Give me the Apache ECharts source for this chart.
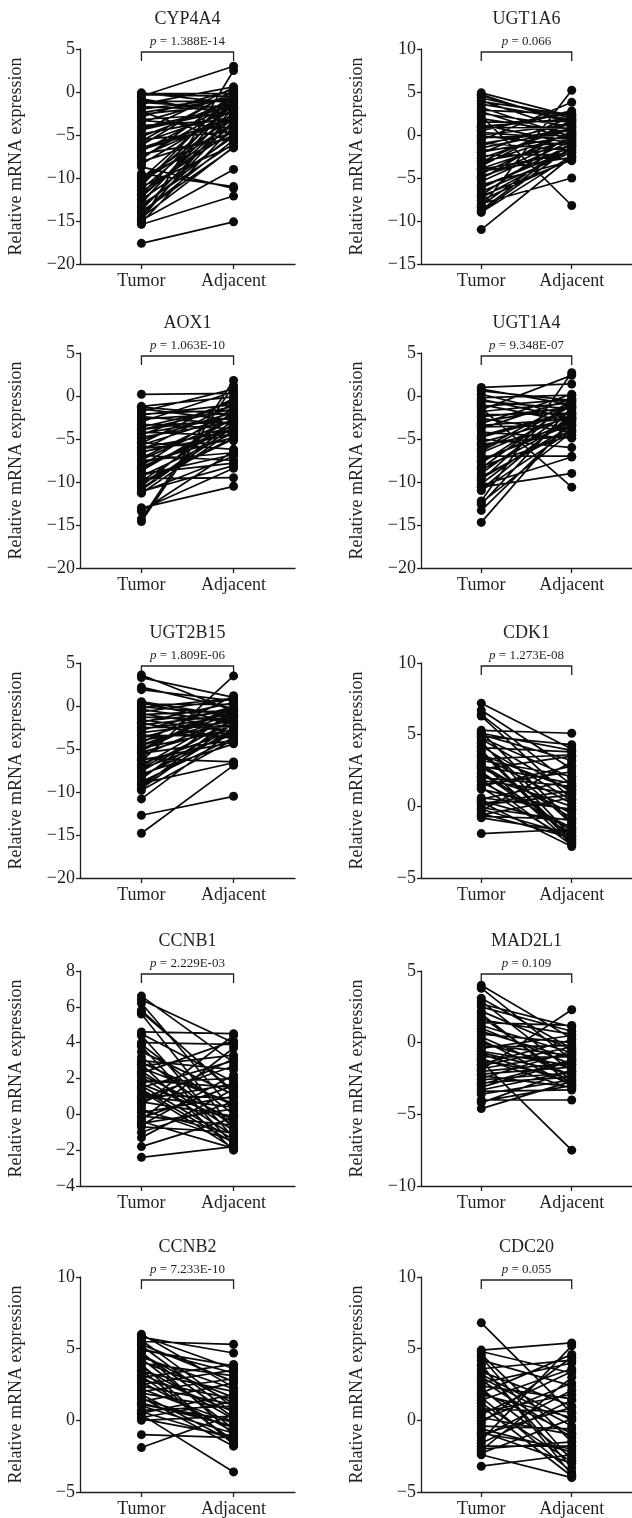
<!DOCTYPE html>
<html><head><meta charset="utf-8">
<script src="https://cdn.jsdelivr.net/npm/echarts@6/dist/echarts.min.js"></script>
<style>html,body{margin:0;padding:0;background:#fff}#c{width:632px;height:1518px}</style>
</head><body><div id="c"></div>
<script>
// ---------- data ----------
const genes = ['CYP4A4','UGT1A6','AOX1','UGT1A4','UGT2B15','CDK1','CCNB1','MAD2L1','CCNB2','CDC20'];
const pValues = ['1.388E-14','0.066','1.063E-10','9.348E-07','1.809E-06','1.273E-08','2.229E-03','0.109','7.233E-10','0.055'];
const groups = ['Tumor','Adjacent'];
const yMin = [-20,-15,-20,-20,-20,-5,-4,-10,-5,-5];
const yMax = [5,10,5,5,5,10,8,5,10,10];
const yStep = [5,5,5,5,5,5,2,5,5,5];
const yTitle = 'Relative mRNA expression';

const tumorCYP4A4 = [-17.6,-15.4,-15.1,-14.9,-14.6,-14.3,-14.0,-13.7,-13.4,-13.1,-12.8,-12.5,-12.2,-11.9,-11.6,-11.3,-11.0,-10.7,-10.4,-10.1,-9.8,-9.5,-8.7,-8.4,-8.1,-7.8,-7.5,-7.2,-6.9,-6.5,-6.2,-5.9,-5.5,-5.2,-4.9,-4.5,-4.2,-3.9,-3.5,-3.2,-2.9,-2.6,-2.3,-2.0,-1.7,-1.4,-1.1,-0.8,-0.5,-0.2,-0.1,
  -15.2,-14.7,-13.9,-13.0,-12.0,-10.9,-10.2,-7.6,-6.7,-5.7,-4.4,-3.3,-2.4,-1.2,-0.3];
const adjCYP4A4   = [-15.1,-12.1,2.5,-9.0,-6.4,-3.3,-5.6,-2.8,-4.9,-6.0,-1.9,-5.2,-3.0,-0.9,-4.5,-2.4,-6.2,-1.5,-3.6,-0.6,-5.0,-11.0,-11.2,-2.0,-4.7,-0.3,-2.7,-5.4,-1.2,-3.1,0.2,-2.2,-4.6,-1.0,-2.9,0.5,-1.7,-3.2,-0.4,-2.5,0.3,-1.4,-5.8,-0.7,-2.1,0.6,-1.1,-2.6,3.0,-0.2,-1.3,
  -4.0,-2.3,-6.5,-1.0,-3.8,-0.1,-2.9,-1.6,-3.4,0.1,-2.0,-4.2,-0.8,-1.9,-0.5];

const tumorUGT1A6 = [4.9,4.6,4.3,4.0,3.6,3.2,2.9,2.5,2.2,1.9,1.5,1.2,0.9,0.6,0.3,0.0,-0.3,-0.6,-0.9,-1.2,-1.5,-1.8,-2.1,-2.4,-2.7,-3.0,-3.3,-3.6,-3.9,-4.2,-4.5,-4.8,-5.1,-5.4,-5.8,-6.2,-6.6,-7.0,-7.3,-7.6,-8.0,-8.4,-8.7,-9.0,-11.0,
  4.7,3.9,2.7,1.0,-0.1,-1.0,-2.0,-3.1,-4.0,-5.0,-6.0,-7.1,-8.2,-8.9,0.5];
const adjUGT1A6   = [2.2,1.5,2.0,0.5,1.8,-0.2,2.4,1.0,-8.2,0.3,1.6,-1.0,0.8,2.6,-0.5,1.2,0.0,3.8,-1.8,1.4,0.6,-0.8,2.1,-2.2,0.9,-1.3,0.2,1.7,-0.4,-2.6,0.4,-1.5,1.1,-0.7,-3.0,-1.1,-2.0,0.1,-1.6,-2.8,-5.0,5.2,-0.9,-2.4,-2.5,
  1.3,2.3,-0.6,1.9,-1.2,0.7,-0.1,1.5,-2.1,-0.3,-1.7,-2.9,-0.8,-1.4,2.8];

const tumorAOX1 = [0.2,-1.2,-1.5,-1.8,-2.1,-2.4,-2.7,-3.0,-3.3,-3.6,-3.9,-4.2,-4.5,-4.8,-5.1,-5.4,-5.7,-6.0,-6.3,-6.6,-6.9,-7.2,-7.5,-7.8,-8.1,-8.4,-8.7,-9.0,-9.3,-9.6,-9.9,-10.2,-10.5,-10.8,-11.1,-11.3,-13.0,-13.4,-14.3,-14.6,
  -1.3,-2.2,-3.4,-4.4,-5.5,-6.5,-7.4,-8.3,-9.2,-10.0,-10.9,-11.2,-3.9,-6.1,-13.2];
const adjAOX1   = [0.3,-0.1,-2.8,0.8,-1.6,-3.3,-2.0,0.5,-3.8,-1.2,-2.5,-4.6,-0.6,-3.0,-1.9,-6.2,-2.3,-4.1,-0.9,-3.5,-7.5,-2.1,-6.6,-4.8,-1.4,-3.7,-2.6,-7.8,-4.3,-9.5,-2.9,-5.0,-1.7,-3.2,-8.1,-4.0,-10.5,-6.4,1.8,1.2,
  -2.2,-1.0,-3.0,-2.4,-0.3,-4.5,-2.7,-3.4,-6.8,-4.9,-3.6,-7.0,-1.5,-5.2,-8.4];

const tumorUGT1A4 = [1.0,0.6,0.2,-0.2,-0.6,-1.0,-1.4,-1.8,-2.2,-2.6,-3.0,-3.4,-3.8,-4.2,-4.6,-5.0,-5.4,-5.8,-6.2,-6.6,-7.0,-7.4,-7.8,-8.2,-8.6,-9.0,-9.4,-9.8,-10.2,-10.6,-11.0,-12.2,-12.6,-13.3,-14.7,-1.6,
  0.8,-0.4,-1.2,-2.4,-3.6,-4.8,-5.6,-6.4,-7.6,-8.4,-9.6,-10.4,-10.9,-12.4,-3.2];
const adjUGT1A4   = [1.4,-0.5,-2.3,0.1,-1.5,-3.0,-10.6,-0.8,-2.0,-4.2,-1.2,-2.7,-0.3,-4.9,-1.8,-6.0,-2.5,-3.6,-0.6,-2.2,-7.0,-3.3,-1.0,-4.5,-2.9,-1.6,-3.9,-0.2,-2.4,-9.0,-4.0,2.7,-1.3,-3.1,-2.6,2.4,
  -1.0,-2.6,-0.4,-1.4,-3.4,-2.0,-4.6,-1.2,-2.8,-0.7,-3.5,-7.1,-2.1,-4.2,0.2];

const tumorUGT2B15 = [3.6,3.3,2.2,1.9,0.5,0.2,-0.1,-0.4,-0.7,-1.0,-1.3,-1.6,-1.9,-2.2,-2.5,-2.8,-3.1,-3.4,-3.7,-4.0,-4.3,-4.6,-4.9,-5.2,-5.5,-5.8,-6.1,-6.4,-6.7,-7.0,-7.3,-7.6,-7.9,-8.2,-8.5,-8.8,-9.1,-9.4,-9.8,-10.8,-12.7,-14.8,
  0.4,-0.2,-0.9,-1.8,-2.7,-3.6,-4.5,-5.4,-6.3,-7.2,-8.1,-9.0,-9.6,-5.0,-2.0];
const adjUGT2B15   = [-0.6,1.0,-0.3,0.6,-1.2,0.2,-0.9,-2.0,0.8,-0.5,-1.6,-3.0,0.4,-1.0,-2.4,-0.1,-1.8,-3.5,-0.7,-2.2,1.2,-1.4,-2.7,-0.2,-4.0,-1.1,-6.5,3.5,-2.9,-0.8,-3.3,-1.5,-4.4,-2.1,-0.4,-3.7,-2.6,-1.3,-3.9,-2.8,-10.5,-6.9,
  -1.9,0.9,-2.5,-0.6,-1.2,-3.1,-0.9,-2.3,-4.2,-1.7,-3.0,-6.6,-2.0,0.0,-3.8];

const tumorCDK1 = [7.2,6.7,6.3,5.3,5.0,4.7,4.4,4.1,3.8,3.5,3.2,2.9,2.6,2.3,2.0,1.7,1.4,1.2,0.5,0.3,0.1,-0.1,-0.3,-0.5,-0.8,-1.9,4.9,3.0,2.1,1.5,0.4,2.7,3.6,4.5,1.9,-0.6,
  5.2,4.8,4.2,3.9,3.3,2.8,2.4,1.8,1.3,0.6,0.2,-0.2,-0.7,6.4,5.1];
const adjCDK1   = [4.0,2.6,0.5,5.1,3.2,1.0,-1.2,3.8,-2.5,0.2,2.1,-0.8,3.5,-2.0,1.4,-1.5,2.8,-0.3,1.8,-2.8,0.8,-1.0,3.1,-2.2,-1.8,-1.6,4.3,-2.6,0.0,2.4,-1.4,-0.5,1.2,-2.1,-2.7,0.6,
  -1.1,2.0,0.4,-2.3,3.6,1.6,-1.7,0.9,-2.4,-0.2,1.1,-2.0,-0.9,1.5,3.9];

const tumorCCNB1 = [6.6,6.2,5.8,5.6,4.6,4.5,4.0,3.8,3.0,2.8,2.6,2.3,2.1,1.9,1.7,1.5,1.3,1.1,0.9,0.7,0.5,0.3,0.1,-0.1,-0.3,-0.5,-0.7,-1.3,-1.8,-2.4,2.9,1.6,0.8,-0.6,3.9,2.4,
  6.4,4.4,3.5,2.7,2.2,1.8,1.4,1.0,0.6,0.2,-0.2,-0.4,-1.0,5.7,3.2];
const adjCCNB1   = [2.9,0.2,1.2,-0.8,4.5,1.8,3.9,-1.7,2.5,-2.0,0.6,4.1,-1.2,1.5,-0.4,3.0,-1.9,0.9,2.7,-0.1,4.4,-1.5,1.0,-0.6,3.7,0.3,-1.0,1.4,-0.2,-1.8,0.5,-1.4,1.7,2.2,0.0,-0.9,
  4.0,-1.3,1.1,3.3,-0.3,2.0,-1.6,0.4,3.1,-1.1,1.6,-1.9,0.7,1.3,-0.7];

const tumorMAD2L1 = [4.0,3.8,2.9,2.5,2.2,1.8,1.4,1.0,0.6,0.2,-0.1,-0.4,-0.7,-1.0,-1.3,-1.6,-1.9,-2.2,-2.5,-2.8,-3.1,-3.4,-4.0,-4.2,-4.6,0.0,-0.8,-1.5,-2.0,1.2,-2.6,-1.1,
  3.1,2.0,1.6,0.8,0.4,-0.3,-0.6,-1.2,-1.8,-2.3,-2.9,-3.3,-3.6,-4.1,2.7];
const adjMAD2L1   = [0.3,-1.2,-2.0,0.8,-0.5,-2.6,1.2,-1.5,0.0,-3.0,-0.9,0.5,-2.2,-1.0,-7.5,-0.3,2.3,-1.7,-0.6,-2.4,-1.3,-3.3,-4.0,-1.9,-2.7,-1.8,-2.8,0.2,-1.4,-0.7,-2.1,-3.2,
  -0.4,-2.9,0.6,-1.1,-2.3,-0.2,-1.6,-2.5,-0.8,-3.1,-1.2,-2.0,-2.6,-3.0,1.1];

const tumorCCNB2 = [6.0,5.8,5.5,5.2,4.9,4.6,4.3,4.0,3.7,3.4,3.1,2.8,2.5,2.2,1.9,1.6,1.3,1.0,0.7,0.4,0.1,0.0,-1.0,-1.9,5.0,3.5,2.0,1.2,0.5,4.1,2.7,
  5.9,5.6,5.3,4.8,4.4,3.9,3.2,2.4,1.8,1.1,0.6,0.2,3.0,4.7,1.5];
const adjCCNB2   = [2.3,4.7,5.3,0.5,3.8,1.2,-0.6,3.1,0.1,2.0,-1.4,1.5,3.5,-0.2,0.8,-1.8,2.6,-0.9,1.0,-3.6,-1.1,0.3,-1.2,0.4,3.3,-1.6,2.9,-0.4,1.8,1.6,-0.8,
  3.6,0.9,2.7,-1.0,2.2,-1.7,0.6,1.1,-1.5,0.0,-1.3,1.3,3.9,0.2,-0.5];

const tumorCDC20 = [6.8,4.9,4.6,4.2,3.8,3.4,3.0,2.6,2.2,1.8,1.4,1.0,0.6,0.2,-0.2,-0.6,-1.0,-1.4,-1.8,-2.1,-2.4,-3.2,2.0,0.0,-0.8,3.2,1.2,-1.6,
  4.8,4.4,3.6,2.8,2.4,1.6,0.8,0.4,-0.4,-1.2,-2.0,-2.3,3.9,1.9,-0.9];
const adjCDC20   = [0.5,5.4,-1.5,2.4,-3.3,1.0,-0.4,4.0,-2.6,0.2,3.6,-3.9,1.8,-1.0,4.4,-2.2,0.9,5.2,-1.8,3.0,-4.0,-2.4,-0.9,2.6,-3.0,0.0,-2.9,1.4,
  3.3,-2.8,4.2,-1.2,1.5,-3.6,0.6,3.4,-0.6,2.1,-1.5,0.1,-3.8,4.6,-2.0];

const tumorSets = [tumorCYP4A4,tumorUGT1A6,tumorAOX1,tumorUGT1A4,tumorUGT2B15,tumorCDK1,tumorCCNB1,tumorMAD2L1,tumorCCNB2,tumorCDC20];
const adjSets = [adjCYP4A4,adjUGT1A6,adjAOX1,adjUGT1A4,adjUGT2B15,adjCDK1,adjCCNB1,adjMAD2L1,adjCCNB2,adjCDC20];

// ---------- layout ----------
const FONT = '"Liberation Serif", "Times New Roman", serif';
const INK = '#231f20';
const MARK = '#0a0a0a';
const colLeft = [80, 421];
const rowTop = [49, 353, 663, 971, 1277];
const W = 215, H = 215;
// padded category axis so Tumor/Adjacent sit at 2/7 and 5/7 of the axis
const xCats = ['', ' ', groups[0], '  ', '   ', groups[1], '    ', '     '];
const isGroup = (i, v) => v === groups[0] || v === groups[1];

const chart = echarts.init(document.getElementById('c'), null, {renderer: 'canvas'});
const grid = [], xAxis = [], yAxis = [], series = [];
genes.forEach((g, k) => {
  const col = k % 2, row = Math.floor(k / 2);
  grid.push({left: colLeft[col], top: rowTop[row], width: W, height: H, containLabel: false});
  xAxis.push({
    type: 'category', gridIndex: k, data: xCats, boundaryGap: false,
    axisLine: {onZero: false, lineStyle: {color: INK, width: 1.3}},
    axisTick: {show: true, interval: isGroup, length: 5, lineStyle: {color: INK, width: 1.3}},
    axisLabel: {interval: isGroup, color: INK, fontFamily: FONT, fontSize: 18, margin: 8},
    splitLine: {show: false}
  });
  yAxis.push({
    type: 'value', gridIndex: k, min: yMin[k], max: yMax[k], interval: yStep[k],
    name: yTitle, nameLocation: 'middle', nameRotate: 90, nameGap: 55,
    nameTextStyle: {color: INK, fontFamily: FONT, fontSize: 18},
    axisLine: {show: true, onZero: false, lineStyle: {color: INK, width: 1.3}},
    axisTick: {show: true, length: 4, lineStyle: {color: INK, width: 1.3}},
    axisLabel: {color: INK, fontFamily: FONT, fontSize: 18, margin: 5,
      formatter: v => String(v).replace('-', '\u2212')},
    splitLine: {show: false}
  });
  const T = tumorSets[k], A = adjSets[k];
  const lineData = [];
  T.forEach((t, i) => {
    lineData.push([groups[0], t], [groups[1], A[i]], [groups[0], '-']);
  });
  series.push({
    type: 'line', xAxisIndex: k, yAxisIndex: k, data: lineData, connectNulls: false,
    showSymbol: false, lineStyle: {color: MARK, width: 1.7}, silent: true, z: 2
  });
  series.push({
    type: 'scatter', xAxisIndex: k, yAxisIndex: k, symbol: 'circle', symbolSize: 9,
    itemStyle: {color: MARK, opacity: 1},
    data: T.map(v => [groups[0], v]).concat(A.map(v => [groups[1], v])), z: 3
  });
});

chart.setOption({animation: false, backgroundColor: '#fff', grid, xAxis, yAxis, series});

// titles, p-values and brackets anchored to the axes
const graphic = [];
genes.forEach((g, k) => {
  const pT = chart.convertToPixel({gridIndex: k}, [groups[0], yMax[k]]);
  const pA = chart.convertToPixel({gridIndex: k}, [groups[1], yMax[k]]);
  const top = pT[1];
  const cx = (pT[0] + pA[0]) / 2;
  graphic.push({type: 'text', x: cx, y: top - 29.5, style: {
    text: g, fill: INK, font: '18px ' + FONT, align: 'center', verticalAlign: 'middle'}});
  graphic.push({type: 'text', x: cx, y: top - 7, style: {
    text: '{i|p} = ' + pValues[k], fill: INK, fontFamily: FONT, fontSize: 13,
    align: 'center', verticalAlign: 'middle',
    rich: {i: {fontStyle: 'italic', fontFamily: FONT, fontSize: 13, fill: INK}}}});
  graphic.push({type: 'polyline', shape: {points: [[pT[0], top + 12], [pT[0], top + 3], [pA[0], top + 3], [pA[0], top + 12]]},
    style: {stroke: INK, lineWidth: 1.3, fill: null}});
});
chart.setOption({graphic});
</script>
</body></html>
